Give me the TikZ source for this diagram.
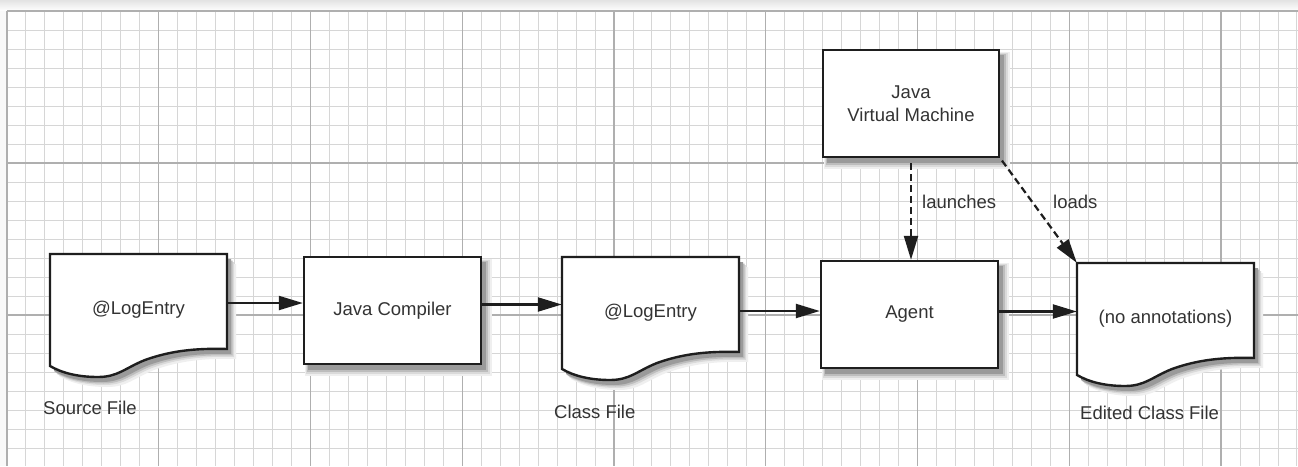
\documentclass[tikz,border=0pt]{standalone}
\usepackage{fontspec}
\setmainfont{Liberation Sans}
\usetikzlibrary{arrows.meta,calc}
\definecolor{txt}{HTML}{333333}
\definecolor{finegrid}{HTML}{D6D6D6}
\definecolor{majgrid}{HTML}{AFAFAF}
\definecolor{ink}{HTML}{1E1E1E}
\definecolor{shA}{HTML}{EFEFEF}
\definecolor{shB}{HTML}{DADADA}
\definecolor{shC}{HTML}{BDBDBD}
\definecolor{shD}{HTML}{9A9A9A}
\tikzset{
  txtfont/.style={text=txt,font=\fontsize{18.5}{23}\selectfont},
  box/.style={draw=ink,line width=2.4pt,fill=white,minimum width=177pt,minimum height=107pt,
    inner sep=0pt,txtfont,align=center},
  docline/.style={draw=ink,line width=2.4pt,fill=white},
  doctext/.style={minimum width=177pt,minimum height=112pt,inner sep=0pt,txtfont},
  lbl/.style={txtfont,inner sep=0pt,anchor=west},
  arr/.style={line width=2.2pt,draw=ink,-{Triangle[length=24pt,width=14pt]}},
  darr/.style={arr,dash pattern=on 7pt off 4pt},
}
% document outline with its top left corner at (#1,#2), scaled by #3
\newcommand\docpath[2]{(#1,#2) -- (#1+177,#2) -- (#1+177,#2+95)
    .. controls (#1+145,#2+94) and (#1+120,#2+97) .. (#1+95,#2+106)
    .. controls (#1+75,#2+114) and (#1+68,#2+123) .. (#1+48,#2+123)
    .. controls (#1+28,#2+123) and (#1+12,#2+119) .. (#1+0,#2+112) -- cycle}
% layered soft shadow for a document whose top left corner is (#1,#2)
\newcommand\docshadow[2]{%
  \fill[shA] \docpath{#1+9}{#2+10};
  \fill[shB] \docpath{#1+7}{#2+8};
  \fill[shC] \docpath{#1+5.5}{#2+6.5};
  \fill[shD] \docpath{#1+4}{#2+5};}
% layered soft shadow for a box from (#1,#2) to (#3,#4)
\newcommand\boxshadow[4]{%
  \fill[shA] (#1+1,#2+2) rectangle (#3+11,#4+12);
  \fill[shB] (#1+2,#2+3) rectangle (#3+8.5,#4+9.5);
  \fill[shC] (#1+3,#2+4) rectangle (#3+6.5,#4+7.5);
  \fill[shD] (#1+4,#2+5) rectangle (#3+4.5,#4+5.5);}
\begin{document}
\begin{tikzpicture}[x=1pt,y=-1pt]
\useasboundingbox (0,0) rectangle (1298,466);
% background and grid
\fill[white] (0,0) rectangle (1298,466);
\fill[top color=gray!22,bottom color=white] (0,0) rectangle (1298,11);
\fill[gray!5] (0,11) rectangle (7,466);
\draw[finegrid,line width=1pt] \foreach \i in {0,...,68} {(7+18.97*\i,11) -- (7+18.97*\i,466)};
\draw[finegrid,line width=1pt] \foreach \j in {0,...,23} {(7,11+19*\j) -- (1298,11+19*\j)};
\draw[majgrid,line width=1.2pt] \foreach \i in {0,...,8} {(7+151.76*\i,11) -- (7+151.76*\i,466)};
\draw[majgrid,line width=1.2pt] \foreach \j in {0,...,2} {(7,11+152*\j) -- (1298,11+152*\j)};
% shadows
\docshadow{50}{254}
\docshadow{562}{257}
\docshadow{1077}{263}
\boxshadow{304}{257}{481}{364}
\boxshadow{821}{261}{998}{368}
\boxshadow{823}{50}{999}{157}
% documents
\path[docline] \docpath{50}{254};
\path[docline] \docpath{562}{257};
\path[docline] \docpath{1077}{263};
\coordinate (srcNW) at (50,254);
\coordinate (clsNW) at (562,257);
\coordinate (edtNW) at (1077,263);
\node[doctext] (src) at ($(srcNW)+(88.5,56)$) {@LogEntry};
\node[doctext] (cls) at ($(clsNW)+(88.5,56)$) {@LogEntry};
\node[doctext] (edt) at ($(edtNW)+(88.5,56)$) {(no annotations)};
% boxes
\node[box] (comp) at (392.5,310.5) {Java Compiler};
\node[box] (agent) at (909.5,314.5) {Agent};
\node[box,minimum width=176pt] (jvm) at (911,103.5) {Java\\Virtual Machine};
% captions
\node[lbl] (srccap) at (43,408) {Source File};
\node[lbl] (clscap) at (554,412) {Class File};
\node[lbl] (edtcap) at (1080,413) {Edited Class File};
% arrows
\draw[arr] ([yshift=7pt]src.east) -- ([yshift=7pt]src.east -| comp.west);
\draw[arr] ([yshift=6pt]comp.east) -- ([yshift=6pt]comp.east -| cls.west);
\draw[arr] ([yshift=2pt]cls.east) -- ([yshift=2pt]cls.east -| agent.west);
\draw[arr] ([yshift=3pt]agent.east) -- ([yshift=3pt]agent.east -| edt.west);
\draw[darr,shorten <=5pt] (jvm.south) -- (jvm.south |- agent.north);
\draw[darr,shorten <=3pt] (jvm.south east) -- (edt.north west);
\node[lbl] (launch) at (922,202) {launches};
\node[lbl] (load) at (1053,202) {loads};
\end{tikzpicture}
\end{document}
